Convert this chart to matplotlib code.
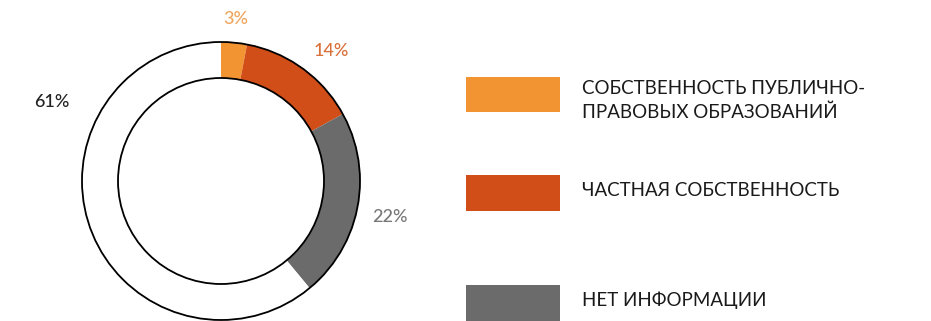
import matplotlib
matplotlib.use("Agg")
import matplotlib.pyplot as plt
from matplotlib.patches import Rectangle, Circle

categories = ["СОБСТВЕННОСТЬ ПУБЛИЧНО-\nПРАВОВЫХ ОБРАЗОВАНИЙ",
              "ЧАСТНАЯ СОБСТВЕННОСТЬ",
              "НЕТ ИНФОРМАЦИИ",
              "Прочее"]
values = [3, 14, 22, 61]
labels = ["3%", "14%", "22%", "61%"]
colors = ["#F39433", "#D24E19", "#6B6B6B", "#FFFFFF"]
label_colors = ["#F0A45C", "#D9703A", "#777777", "#222222"]

plt.rcParams['font.family'] = ['Lato', 'DejaVu Sans']

W, H = 931, 321
fig = plt.figure(figsize=(W / 100, H / 100), dpi=100)
ax = fig.add_axes([0, 0, 1, 1])

cx, cy, R = 221, 140, 139
width = 36
ax.pie(values, colors=colors, startangle=90, counterclock=False,
       center=(cx, cy), radius=R, frame=True,
       wedgeprops=dict(width=width, edgecolor='none'))
ax.set_xlim(0, W)
ax.set_ylim(0, H)
ax.set_aspect('equal')
ax.axis('off')
ax.add_patch(Circle((cx, cy), R, fill=False, edgecolor='black', lw=1.3))
ax.add_patch(Circle((cx, cy), R - width, fill=False, edgecolor='black', lw=1.3))

label_pos = [(236, 302), (331, 270), (390, 104), (52, 219)]
for (x, y), t, c in zip(label_pos, labels, label_colors):
    ax.text(x, y, t, color=c, fontsize=13, ha='center', va='center', fontweight='medium')

# legend
box_y = [209, 110, 0]
box_h = [35, 36, 36]
for i in range(3):
    ax.add_patch(Rectangle((466, box_y[i]), 94, box_h[i], color=colors[i], lw=0))
fs = 13.5
ax.text(582, 220.5, categories[0], fontsize=fs, ha='left', va='center',
        color='#1a1a1a', linespacing=1.45)
ax.text(582, 131, categories[1], fontsize=fs, ha='left', va='center', color='#1a1a1a')
ax.text(582, 21, categories[2], fontsize=fs, ha='left', va='center', color='#1a1a1a')

fig.savefig("out.png", dpi=100, facecolor='white')
